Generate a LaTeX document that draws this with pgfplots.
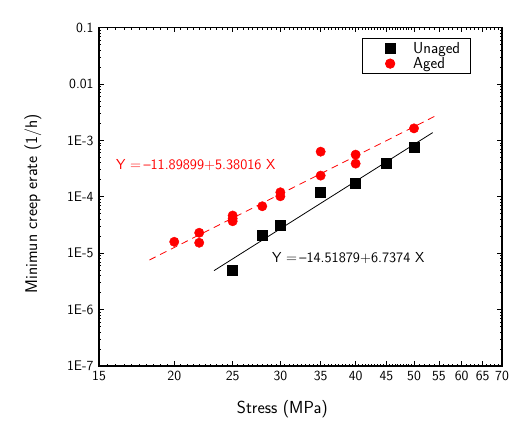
\documentclass[border=0pt]{standalone}
\renewcommand{\familydefault}{\sfdefault}
\usepackage{pgfplots}
\pgfplotsset{compat=1.18}
\begin{document}
\begin{tikzpicture}
\begin{axis}[
  scale only axis, width=403bp, height=338.5bp,
  xmode=log, ymode=log,
  xmin=15, xmax=70, ymin=1e-7, ymax=0.1,
  xtick={15,20,25,30,35,40,45,50,55,60,65,70},
  xticklabels={15,20,25,30,35,40,45,50,55,60,65,70},
  minor xtick={15.5,16,16.5,17,17.5,18,18.5,19,19.5,20.5,21,21.5,22,22.5,23,23.5,24,24.5,
    25.5,26,26.5,27,27.5,28,28.5,29,29.5,30.5,31,31.5,32,32.5,33,33.5,34,34.5,
    35.5,36,36.5,37,37.5,38,38.5,39,39.5,40.5,41,41.5,42,42.5,43,43.5,44,44.5,
    45.5,46,46.5,47,47.5,48,48.5,49,49.5,51,52,53,54,56,57,58,59,61,62,63,64,66,67,68,69},
  ytick={1e-7,1e-6,1e-5,1e-4,1e-3,1e-2,1e-1},
  yticklabels={1E-7,1E-6,1E-5,1E-4,1E-3,0.01,0.1},
  minor ytick={2e-7,3e-7,4e-7,5e-7,6e-7,7e-7,8e-7,9e-7,
               2e-6,3e-6,4e-6,5e-6,6e-6,7e-6,8e-6,9e-6,
               2e-5,3e-5,4e-5,5e-5,6e-5,7e-5,8e-5,9e-5,
               2e-4,3e-4,4e-4,5e-4,6e-4,7e-4,8e-4,9e-4,
               2e-3,3e-3,4e-3,5e-3,6e-3,7e-3,8e-3,9e-3,
               2e-2,3e-2,4e-2,5e-2,6e-2,7e-2,8e-2,9e-2},
  tick align=inside, tick pos=both,
  major tick length=5bp, minor tick length=2.5bp,
  axis line style={black, line width=1.2pt},
  tick style={black, line width=0.8pt},
  /pgf/number format/assume math mode=true,
  ticklabel style={font=\fontsize{14}{16}\selectfont},
  xticklabel style={yshift=-2bp},
  yticklabel style={xshift=-2bp},
  xlabel={Stress (MPa)},
  ylabel={Minimun creep erate (1/h)},
  every axis x label/.style={at={(axis description cs:0.455,-0.127)},anchor=center,font=\fontsize{17.5}{20}\selectfont},
  every axis y label/.style={at={(axis description cs:-0.164,0.479)},rotate=90,anchor=center,font=\fontsize{17}{20}\selectfont},
  legend cell align=left,
  legend style={at={(0.652,0.969)},anchor=north west,draw=black,line width=0.8pt,
    font=\fontsize{16}{18}\selectfont, inner xsep=5bp, inner ysep=2.5bp, row sep=0pt,
    nodes={inner ysep=1.3bp, inner xsep=5bp}},
  legend image code/.code={\path[draw=none,fill=none] (0bp,-5bp) rectangle (41bp,5bp);
    \draw[#1] plot coordinates {(23bp,0bp)};},
]
\addplot[only marks, mark=square*, mark size=5bp, black, mark options={fill=black, draw=black}] coordinates {
 (25,4.94e-6) (28,2.12e-5) (30,3.18e-5) (35,1.22e-4) (40,1.76e-4) (45,3.87e-4) (50,7.64e-4)
};
\addlegendentry{Unaged}
\addplot[only marks, mark=*, mark size=4.7bp, red, mark options={fill=red, draw=red}] coordinates {
 (20,1.59e-5) (22,2.30e-5) (22,1.53e-5) (25,4.65e-5) (25,4.1e-5) (25,3.68e-5)
 (28,6.79e-5) (30,1.20e-4) (30,1.02e-4) (35,6.3e-4) (35,2.37e-4)
 (40,5.58e-4) (40,3.87e-4) (50,1.63e-3)
};
\addlegendentry{Aged}
\addplot[forget plot, black, line width=0.8pt] coordinates {(23.28,4.9e-6) (53.7,1.37e-3)};
\addplot[forget plot, red, line width=0.8pt, dash pattern=on 7bp off 5bp] coordinates {(18.19,7.57e-6) (54.9,2.88e-3)};
\node[anchor=west, red, inner sep=0pt, font=\fontsize{14.5}{16}\selectfont] at (axis cs:16.0,3.6e-4) {Y =\,--11.89899+5.38016 X};
\node[anchor=west, black, inner sep=0pt, font=\fontsize{14.5}{16}\selectfont] at (axis cs:29.04,8.3e-6) {Y =\,--14.51879+6.7374 X};
\coordinate (sw) at (rel axis cs:0,0);
\end{axis}
\path (sw) ++(-99bp,-69bp) rectangle ++(520bp,435bp);
\end{tikzpicture}
\end{document}
